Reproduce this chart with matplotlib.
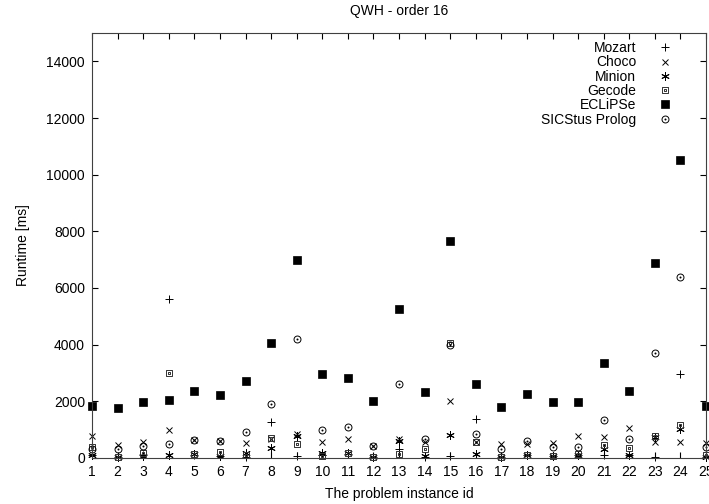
import matplotlib
matplotlib.use("Agg")
from matplotlib import pyplot as plt
from matplotlib.path import Path

plt.rcParams['font.family'] = ['Liberation Sans', 'DejaVu Sans']

ids = list(range(1, 26))
mozart = [100, 20, 100, 5600, 100, 80, 50, 1270, 80, 100, 150, 50, 300,
          50, 60, 1380, 50, 100, 60, 100, 100, 100, 50, 2970, 50]
choco = [780, 450, 550, 1000, 620, 600, 540, 680, 850, 550, 670, 420, 680,
         570, 2000, 580, 480, 500, 520, 780, 730, 1060, 560, 550, 520]
minion = [100, 30, 70, 90, 130, 70, 190, 350, 780, 160, 180, 50, 590,
          70, 800, 140, 50, 100, 70, 100, 330, 100, 740, 1040, 50]
gecode = [400, 50, 190, 3000, 130, 210, 100, 700, 510, 70, 190, 50, 140,
          320, 4050, 560, 50, 100, 70, 140, 450, 365, 760, 1170, 100]
eclipse = [1850, 1780, 1960, 2060, 2360, 2215, 2720, 4060, 7000, 2970, 2815,
           2000, 5250, 2320, 7670, 2600, 1815, 2260, 1980, 1980, 3360, 2360,
           6880, 10530, 1840]
sicstus = [300, 310, 430, 480, 640, 600, 900, 1900, 4200, 990, 1095, 430,
           2600, 660, 4000, 850, 320, 600, 400, 390, 1355, 670, 3700, 6400, 380]

# square / circle with a small dot in the middle (gnuplot look)
sq = Path([(-1, -1), (1, -1), (1, 1), (-1, 1), (-1, -1)],
          [Path.MOVETO, Path.LINETO, Path.LINETO, Path.LINETO, Path.CLOSEPOLY])
dot = Path([(-0.15, -0.15), (0.15, -0.15), (0.15, 0.15), (-0.15, 0.15), (-0.15, -0.15)],
           [Path.MOVETO, Path.LINETO, Path.LINETO, Path.LINETO, Path.CLOSEPOLY])
boxdot = Path.make_compound_path(sq, dot)
circdot = Path.make_compound_path(Path.unit_circle(), Path.circle(radius=0.15))
star = (6, 2, 0)

fig = plt.figure(figsize=(7.09, 5.04), dpi=100)
ax = fig.add_axes([0.1298, 0.0913, 0.866, 0.8432])

kw = dict(linestyle='none', color='black', clip_on=False)
ax.plot(ids, mozart, marker='+', markersize=6, markeredgewidth=0.7, label='Mozart', **kw)
ax.plot(ids, choco, marker='x', markersize=5, markeredgewidth=0.7, label='Choco', **kw)
ax.plot(ids, minion, marker=star, markersize=6, markeredgewidth=0.7, label='Minion', **kw)
ax.plot(ids, gecode, marker=boxdot, markersize=5, markeredgewidth=0.7,
        markerfacecolor='none', label='Gecode', color='#333333', linestyle='none', clip_on=False)
ax.plot(ids, eclipse, marker='s', markersize=5.5, markeredgewidth=0.5, label='ECLiPSe', **kw)
ax.plot(ids, sicstus, marker=circdot, markersize=5, markeredgewidth=0.7,
        markerfacecolor='none', label='SICStus Prolog', **kw)

ax.set_xlim(1, 25)
ax.set_ylim(0, 15000)
ax.set_xticks(ids)
ax.set_yticks(range(0, 14001, 2000))
ax.tick_params(direction='in', top=True, right=True, length=4.5, labelsize=10, pad=5)
for s in ax.spines.values():
    s.set_color('#404040')

ax.set_title('QWH - order 16', fontsize=10, pad=13)
ax.set_xlabel('The problem instance id', fontsize=10, labelpad=6)
ax.set_ylabel('Runtime [ms]', fontsize=10, labelpad=12)

ax.legend(loc='upper right', markerfirst=False, frameon=False, fontsize=10,
          handlelength=2.0, handletextpad=1.1, labelspacing=0.02,
          borderaxespad=0.0, borderpad=0.3, numpoints=1,
          bbox_to_anchor=(0.963, 0.9906))

fig.savefig('out.png', dpi=100)
